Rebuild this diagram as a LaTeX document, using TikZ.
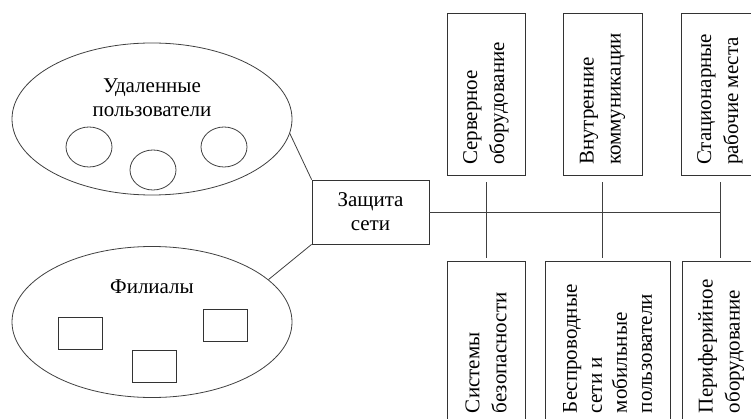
\documentclass[tikz,border=0pt]{standalone}
\usepackage{fontspec}
\setmainfont{Liberation Serif}
\usepackage{graphicx}
\usetikzlibrary{shapes.geometric}

\newcommand{\vlabel}[2]{\rotatebox{90}{\parbox{142pt}{\baselineskip=#1 #2}}}

\begin{document}
\begin{tikzpicture}
[x=1pt,y=-1pt,
  every node/.style={font=\fontsize{21}{24}\selectfont},%
  boxDecorate/.style={shape=rectangle,draw=black!80,line width=0.8pt,minimum height=162pt},%
  ovalDecorate/.style={shape=ellipse,draw=black!75,line width=0.8pt,inner sep=0pt},%
  smallBox/.style={shape=rectangle,draw=black!80,line width=0.8pt,minimum width=44pt,minimum height=32pt,inner sep=0pt},%
  lineDecorate/.style={-,draw=black!75,line width=0.8pt}]
\useasboundingbox (0,0) rectangle (751,419);
%% groups on the left
\node (remote) at (152,119) [ovalDecorate,minimum width=280pt,minimum height=152pt] {};
\node (remoteText) at (152,98) [align=center] {Удаленные\\пользователи};
\foreach \nodename/\x/\y in {u1/89/147, u2/153/170, u3/224/147}
{
  \node (\nodename) at (\x,\y) [ovalDecorate,minimum width=46pt,minimum height=40pt] {};
}
\node (branch) at (152,322) [ovalDecorate,minimum width=280pt,minimum height=151pt] {};
\node (branchText) at (152,287) {Филиалы};
\foreach \nodename/\x/\y in {f1/80/333, f2/154.5/366.5, f3/225.5/325}
{
  \node (\nodename) at (\x,\y) [smallBox] {};
}
%% central box
\node (prot) at (370.5,212) [shape=rectangle,draw=black!80,line width=0.8pt,
  minimum width=117pt,minimum height=64pt,inner sep=0pt,align=center] {Защита\\сети};
%% boxes on the right
\foreach \nodename/\x/\y/\w/\bs/\txt in {
  tA/486/94/78/27pt/{Серверное\\оборудование},
  tB/602.5/94/79/27pt/{Внутренние\\коммуникации},
  tC/720/94/78/27pt/{Стационарные\\рабочие места},
  bA/486/342/78/27pt/{Системы\\безопасности},
  bB/607.5/342/125/25pt/{Беспроводные\\сети и\\мобильные\\пользователи},
  bC/721/342/78/27pt/{Периферийное\\оборудование}}
{
  \node (\nodename) at (\x,\y) [boxDecorate,minimum width=\w pt] {\vlabel{\bs}{\txt}};
}
%% edges or lines
\draw[lineDecorate] (remote.-6) -- (prot.north west);
\draw[lineDecorate] (branch.20) -- (prot.south west);
\coordinate (busEnd) at (tC.south |- prot.east);
\draw[lineDecorate] (prot.east) -- (busEnd);
\foreach \startnode/\endnode in {tA/bA, tB/bB, tC/bC}
{
  \draw[lineDecorate,shorten <=7pt,shorten >=3pt] (\startnode.south) -- (\startnode.south |- \endnode.north);
}
\end{tikzpicture}
\end{document}
